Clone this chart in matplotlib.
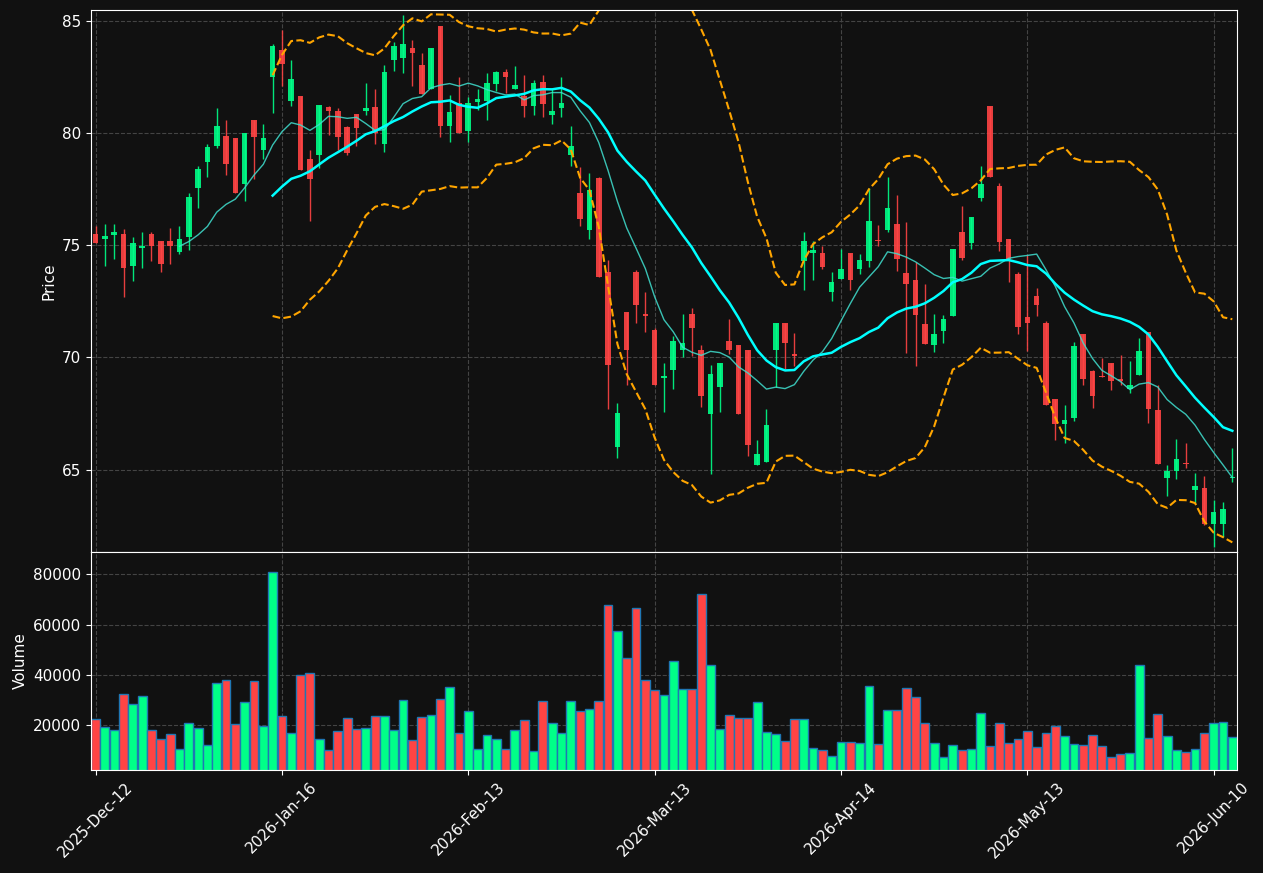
import numpy as np
import pandas as pd
import matplotlib
matplotlib.use('Agg')
import matplotlib.pyplot as plt

# OHLC 데이터
opens = [75.48, 75.26, 75.45, 75.48, 74.07, 74.86, 75.48, 75.20, 75.20, 74.69,
         75.36, 77.53, 78.69, 79.42, 79.85, 79.76, 77.73, 80.60, 79.23, 82.49,
         83.68, 81.45, 81.64, 78.86, 79.02, 81.14, 81.00, 80.26, 80.83, 80.97,
         81.14, 79.53, 83.25, 83.34, 83.78, 83.02, 81.98, 84.75, 80.30, 81.33,
         80.09, 81.37, 81.45, 82.18, 82.71, 81.96, 81.64, 81.20, 82.29, 80.81,
         81.11, 79.03, 77.34, 75.67, 77.98, 73.82, 65.99, 72.04, 73.82, 71.95,
         71.23, 69.06, 69.42, 70.32, 71.95, 70.35, 67.47, 68.66, 70.75, 70.57,
         70.35, 65.19, 65.33, 70.32, 71.54, 70.16, 74.29, 74.64, 74.67, 72.91,
         73.48, 74.67, 73.93, 74.29, 75.25, 75.67, 75.96, 73.78, 73.47, 71.47,
         70.53, 71.17, 71.84, 75.60, 75.08, 77.09, 81.19, 77.62, 75.29, 73.73,
         71.78, 72.75, 71.51, 68.16, 67.02, 67.28, 71.06, 69.37, 69.19, 69.76,
         69.05, 68.61, 69.20, 71.14, 67.67, 64.64, 64.92, 65.31, 64.07, 64.18,
         62.55, 62.55, 64.61]
highs = [75.87, 75.95, 75.95, 75.70, 75.36, 75.59, 75.59, 75.20, 75.78, 75.87,
         77.33, 78.53, 79.51, 81.12, 80.60, 79.76, 80.01, 80.60, 80.41, 83.96,
         84.58, 83.26, 81.64, 79.23, 81.23, 81.22, 81.12, 80.32, 80.83, 82.21,
         81.98, 83.02, 84.05, 85.25, 84.16, 83.57, 83.78, 84.75, 81.70, 82.50,
         81.62, 81.96, 82.67, 82.77, 82.86, 83.00, 82.60, 82.36, 82.60, 81.96,
         82.50, 80.32, 78.50, 78.22, 78.05, 74.32, 67.96, 72.04, 73.91, 72.92,
         71.31, 69.74, 70.94, 71.93, 72.22, 70.55, 69.67, 69.76, 71.73, 70.57,
         70.35, 66.32, 67.70, 71.54, 71.54, 71.09, 75.59, 75.20, 74.97, 73.79,
         74.83, 74.67, 74.61, 77.56, 75.90, 78.05, 77.25, 76.05, 74.24, 73.28,
         71.93, 71.88, 74.81, 76.75, 76.27, 78.53, 81.19, 77.78, 75.29, 73.81,
         74.57, 73.11, 71.62, 68.16, 67.88, 70.67, 71.06, 69.45, 69.95, 69.76,
         70.10, 69.82, 70.86, 71.14, 68.77, 65.20, 66.36, 66.19, 64.86, 64.72,
         63.65, 63.53, 65.96]
lows = [75.09, 74.07, 74.38, 72.67, 73.40, 73.98, 74.30, 73.79, 74.18, 74.61,
        74.78, 76.64, 78.04, 79.33, 78.12, 77.33, 76.97, 77.95, 78.84, 80.91,
        82.10, 81.22, 78.33, 76.09, 78.44, 79.90, 79.23, 79.02, 79.43, 80.81,
        79.53, 79.14, 82.78, 82.67, 82.10, 81.76, 81.98, 79.82, 79.59, 79.99,
        79.59, 81.02, 80.58, 81.87, 81.79, 81.96, 80.71, 80.81, 80.71, 80.40,
        80.71, 78.52, 75.87, 75.28, 73.57, 67.68, 65.51, 68.77, 71.54, 71.14,
        68.75, 67.56, 68.60, 70.01, 70.05, 67.79, 64.80, 67.56, 70.15, 67.47,
        65.62, 65.19, 65.33, 68.69, 69.50, 69.62, 73.02, 73.45, 73.96, 72.53,
        73.48, 73.02, 73.73, 74.04, 74.97, 75.59, 73.85, 70.19, 69.62, 70.58,
        70.24, 70.63, 71.84, 74.35, 74.83, 76.97, 78.04, 74.75, 73.36, 71.05,
        70.29, 71.84, 67.87, 66.32, 66.18, 67.17, 68.75, 67.74, 69.11, 68.53,
        68.75, 68.41, 69.20, 67.06, 65.23, 63.81, 64.58, 65.05, 63.50, 62.54,
        61.56, 62.01, 64.43]
closes = [75.09, 75.39, 75.60, 73.98, 75.12, 74.98, 74.95, 74.18, 74.95, 75.29,
          77.17, 78.38, 79.36, 80.33, 78.61, 77.33, 80.01, 79.82, 79.76, 83.90,
          83.08, 82.40, 78.33, 77.95, 81.23, 80.97, 79.82, 79.11, 80.22, 81.12,
          80.01, 82.71, 83.90, 83.99, 83.56, 81.76, 83.78, 80.30, 80.92, 79.99,
          81.33, 81.50, 82.21, 82.71, 82.49, 82.12, 81.20, 82.21, 81.29, 80.98,
          81.33, 79.43, 76.16, 77.48, 73.57, 69.65, 67.50, 70.32, 72.32, 71.84,
          68.75, 69.19, 70.75, 70.66, 71.29, 68.27, 69.28, 69.76, 70.32, 67.47,
          66.09, 65.71, 67.00, 71.54, 70.63, 70.04, 75.20, 74.78, 74.02, 73.37,
          73.96, 73.43, 74.32, 76.10, 75.19, 76.67, 74.38, 73.26, 71.91, 70.58,
          71.02, 71.73, 74.81, 74.44, 76.27, 77.74, 78.04, 75.14, 74.38, 71.36,
          71.53, 72.32, 67.87, 67.02, 67.19, 70.52, 69.02, 68.27, 69.11, 68.94,
          68.94, 68.77, 70.30, 67.68, 65.23, 64.95, 65.48, 65.23, 64.26, 62.57,
          63.12, 63.25, 64.67]
volumes = [22400, 19200, 18000, 32400, 28400, 31600, 18000, 14400, 16400, 10400,
           20800, 18800, 12000, 36800, 38000, 20400, 29200, 37600, 19600, 80800,
           23600, 16800, 40000, 40800, 14400, 10000, 17600, 22800, 18400, 18800,
           23600, 23600, 18000, 30000, 14000, 23200, 24000, 30400, 35200, 16800,
           25600, 10400, 16000, 14400, 10400, 18000, 22000, 9600, 29600, 20800,
           16800, 29600, 25600, 26400, 29600, 67600, 57600, 46800, 66800, 38000,
           34000, 32000, 45600, 34400, 34400, 72000, 44000, 18400, 24000, 22800,
           22800, 29200, 17200, 16400, 13600, 22400, 22400, 10800, 10000, 7600,
           13200, 13200, 12800, 35600, 12400, 26000, 26000, 34800, 31200, 20800,
           12800, 7200, 12000, 10000, 10400, 24800, 11600, 20800, 12800, 14400,
           17600, 11200, 16800, 19600, 15600, 12400, 12000, 16000, 11600, 7200,
           8400, 8800, 44000, 14800, 24400, 15600, 10000, 9200, 10400, 16800,
           20800, 21200, 15200]

# x축 날짜 라벨 (20봉마다)
tick_labels = ['2025-Dec-12', '2026-Jan-16', '2026-Feb-13', '2026-Mar-13',
               '2026-Apr-14', '2026-May-13', '2026-Jun-10']
tick_step = 20

df = pd.DataFrame({'open': opens, 'high': highs, 'low': lows,
                   'close': closes, 'volume': volumes})
x = np.arange(len(df))

# 이동평균, 볼린저 밴드
sma10 = df['close'].rolling(10).mean()
sma20 = df['close'].rolling(20).mean()
std20 = df['close'].rolling(20).std()
bb_upper = sma20 + 2 * std20
bb_lower = sma20 - 2 * std20

up_color = '#00ff88'
down_color = '#ff4444'
bg = '#111111'
is_up = df['close'] >= df['open']
colors = np.where(is_up, up_color, down_color)

plt.rcParams['font.size'] = 11
fig = plt.figure(figsize=(12.63, 8.73), dpi=100, facecolor=bg)
ax = fig.add_axes([0.072, 0.3677, 0.9074, 0.6209])
ax_v = fig.add_axes([0.072, 0.118, 0.9074, 0.2497], sharex=ax)

# 캔들
body_low = np.minimum(df['open'], df['close'])
body_h = (df['close'] - df['open']).abs()
ax.vlines(x, df['low'], df['high'], color=colors, linewidth=1, alpha=0.9)
ax.bar(x, body_h, bottom=body_low, width=0.6, color=colors, alpha=0.9)

# 지표 라인
ax.plot(x, sma10, color='#40e0d0', linewidth=1, alpha=0.85)
ax.plot(x, sma20, color='cyan', linewidth=1.8)
ax.plot(x, bb_upper, color='orange', linestyle='--', linewidth=1.5)
ax.plot(x, bb_lower, color='orange', linestyle='--', linewidth=1.5)

lo, hi = df['low'].min(), df['high'].max()
pad = (hi - lo) * 0.01
ax.set_ylim(lo - pad, hi + pad)
ax.set_ylabel('Price', color='white')

# 거래량
ax_v.bar(x, df['volume'], width=0.95, color=colors,
         edgecolor='#1f77b4', linewidth=1)
ax_v.set_ylim(df['volume'].min() * 0.3, df['volume'].max() * 1.1)
ax_v.set_ylabel('Volume', color='white')

ax_v.set_xlim(-0.5, len(df) - 0.5)
ax_v.set_xticks(x[::tick_step])
ax_v.set_xticklabels(tick_labels, rotation=45)
plt.setp(ax.get_xticklabels(), visible=False)

for a in (ax, ax_v):
    a.set_facecolor(bg)
    a.grid(True, color='#444444', linestyle='--', linewidth=0.8)
    a.set_axisbelow(True)
    a.tick_params(colors='white')
    for s in a.spines.values():
        s.set_color('white')

plt.savefig('out.png', dpi=100, facecolor=bg)
